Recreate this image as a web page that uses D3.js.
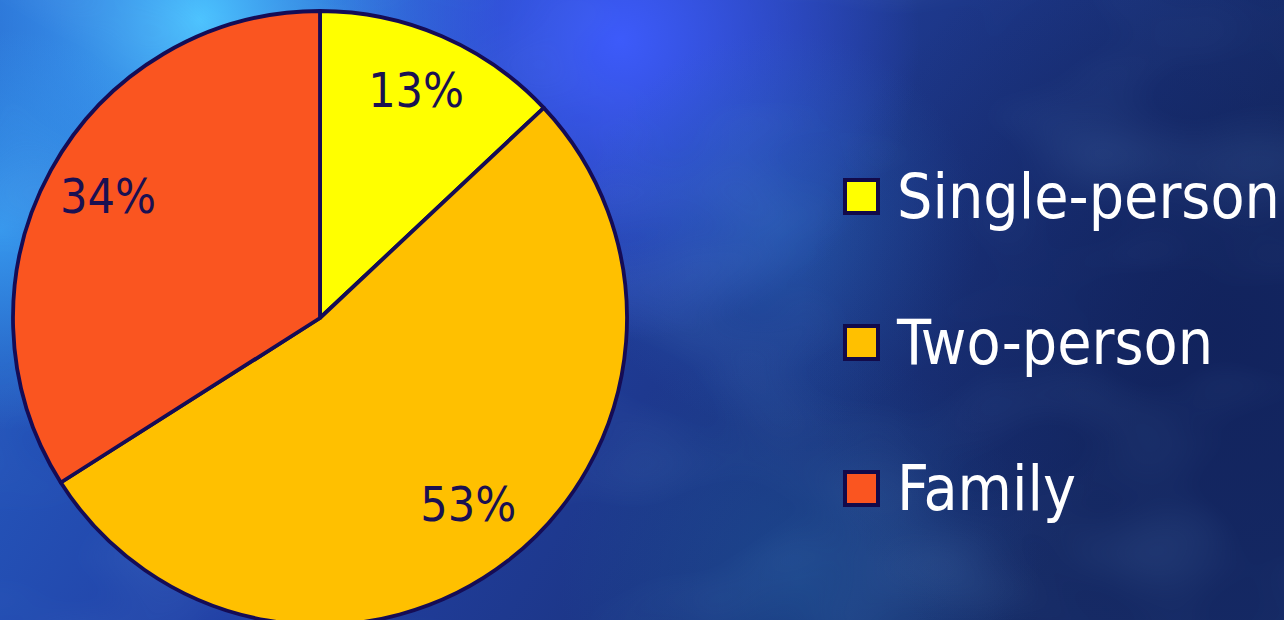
<!DOCTYPE html>
<html>
<head>
<meta charset="utf-8">
<script src="https://cdn.jsdelivr.net/npm/d3@7"></script>
<style>
  html, body { margin: 0; padding: 0; background: #1a3a86; }
  svg { display: block; }
</style>
</head>
<body>
<svg id="chart" width="1284" height="620"></svg>
<script>
// Household types, share of households (%)
const categories = ["Single-person", "Two-person", "Family"];
const shares = [13, 53, 34];
const sliceColors = ["#ffff00", "#ffc000", "#fa5520"];

const W = 1284, H = 620;
const svg = d3.select("#chart");
const defs = svg.append("defs");

// ---- background: deep blue with soft light patches ----
function radial(id, cx, cy, r, stops) {
  const g = defs.append("radialGradient").attr("id", id)
    .attr("gradientUnits", "userSpaceOnUse")
    .attr("cx", cx).attr("cy", cy).attr("r", r);
  stops.forEach(s => g.append("stop").attr("offset", s[0])
    .attr("stop-color", s[1]).attr("stop-opacity", s[2]));
}
const lin = defs.append("linearGradient").attr("id", "bgBase")
  .attr("x1", 0).attr("y1", 0).attr("x2", 1).attr("y2", 0.3);
lin.append("stop").attr("offset", 0).attr("stop-color", "#2562c8");
lin.append("stop").attr("offset", 0.45).attr("stop-color", "#2240a4");
lin.append("stop").attr("offset", 1).attr("stop-color", "#162b66");
svg.append("rect").attr("width", W).attr("height", H).attr("fill", "url(#bgBase)");

radial("glowCyan", 200, 20, 300, [[0, "#4cc4ff", 1], [0.5, "#3c9ef6", 0.6], [1, "#3a9cf6", 0]]);
radial("glowEdge", 0, 230, 200, [[0, "#3aa6f8", 0.8], [1, "#3aa6f8", 0]]);
radial("glowBlue", 620, 40, 300, [[0, "#3e5cff", 0.95], [1, "#3e5cff", 0]]);
radial("glowMid", 780, 230, 200, [[0, "#2b6cc0", 0.5], [1, "#2b6cc0", 0]]);
radial("glowLow", 800, 580, 240, [[0, "#1e5a9c", 0.5], [1, "#1e5a9c", 0]]);
radial("darkRight", 1220, 330, 420, [[0, "#10205a", 0.75], [1, "#10205a", 0]]);
["glowCyan", "glowEdge", "glowBlue", "glowMid", "glowLow", "darkRight"].forEach(id =>
  svg.append("rect").attr("width", W).attr("height", H).attr("fill", `url(#${id})`));

// mottled texture
const tex = defs.append("filter").attr("id", "mottle")
  .attr("x", 0).attr("y", 0).attr("width", 1).attr("height", 1);
tex.append("feTurbulence").attr("type", "fractalNoise")
  .attr("baseFrequency", "0.005 0.008").attr("numOctaves", 2).attr("seed", 7);
tex.append("feColorMatrix").attr("type", "matrix")
  .attr("values", "0 0 0 0 0.2  0 0 0 0 0.45  0 0 0 0 0.85  0 0 0 1.0 -0.45");
svg.append("rect").attr("width", W).attr("height", H)
  .attr("filter", "url(#mottle)").attr("opacity", 0.3);

// ---- pie ----
const cx = 320, cy = 318, R = 307;
const pie = d3.pie().sort(null).value(d => d);
const arcs = pie(shares);
const arc = d3.arc().innerRadius(0).outerRadius(R);
const labelArc = d3.arc().innerRadius(242).outerRadius(242);

const g = svg.append("g").attr("transform", `translate(${cx},${cy})`);
g.selectAll("path.slice").data(arcs).join("path")
  .attr("class", "slice")
  .attr("d", arc)
  .attr("fill", (d, i) => sliceColors[i])
  .attr("stroke", "#150c55")
  .attr("stroke-width", 3.8)
  .attr("stroke-linejoin", "round");

const fmt = d => d + "%";
g.selectAll("text.pct").data(arcs).join("text")
  .attr("class", "pct")
  .attr("transform", d => `translate(${labelArc.centroid(d)})`)
  .attr("text-anchor", "middle")
  .attr("dy", "0.24em")
  .attr("font-family", "'DejaVu Sans Condensed', 'DejaVu Sans', sans-serif")
  .attr("font-size", 48)
  .attr("fill", "#1a1052")
  .text(d => fmt(d.data));

// ---- legend ----
const legendY = d3.scalePoint().domain(categories).range([196, 488]);
const lg = svg.append("g");
const item = lg.selectAll("g.item").data(categories).join("g")
  .attr("class", "item")
  .attr("transform", d => `translate(843,${legendY(d)})`);
item.append("rect")
  .attr("x", 2).attr("y", -16).attr("width", 33).attr("height", 33)
  .attr("fill", (d, i) => sliceColors[i])
  .attr("stroke", "#120a4a").attr("stroke-width", 4);
item.append("text")
  .attr("x", 54).attr("y", 22)
  .attr("font-family", "'DejaVu Sans Condensed', 'DejaVu Sans', sans-serif")
  .attr("font-size", 62)
  .attr("fill", "#ffffff")
  .text(d => d);
</script>
</body>
</html>
